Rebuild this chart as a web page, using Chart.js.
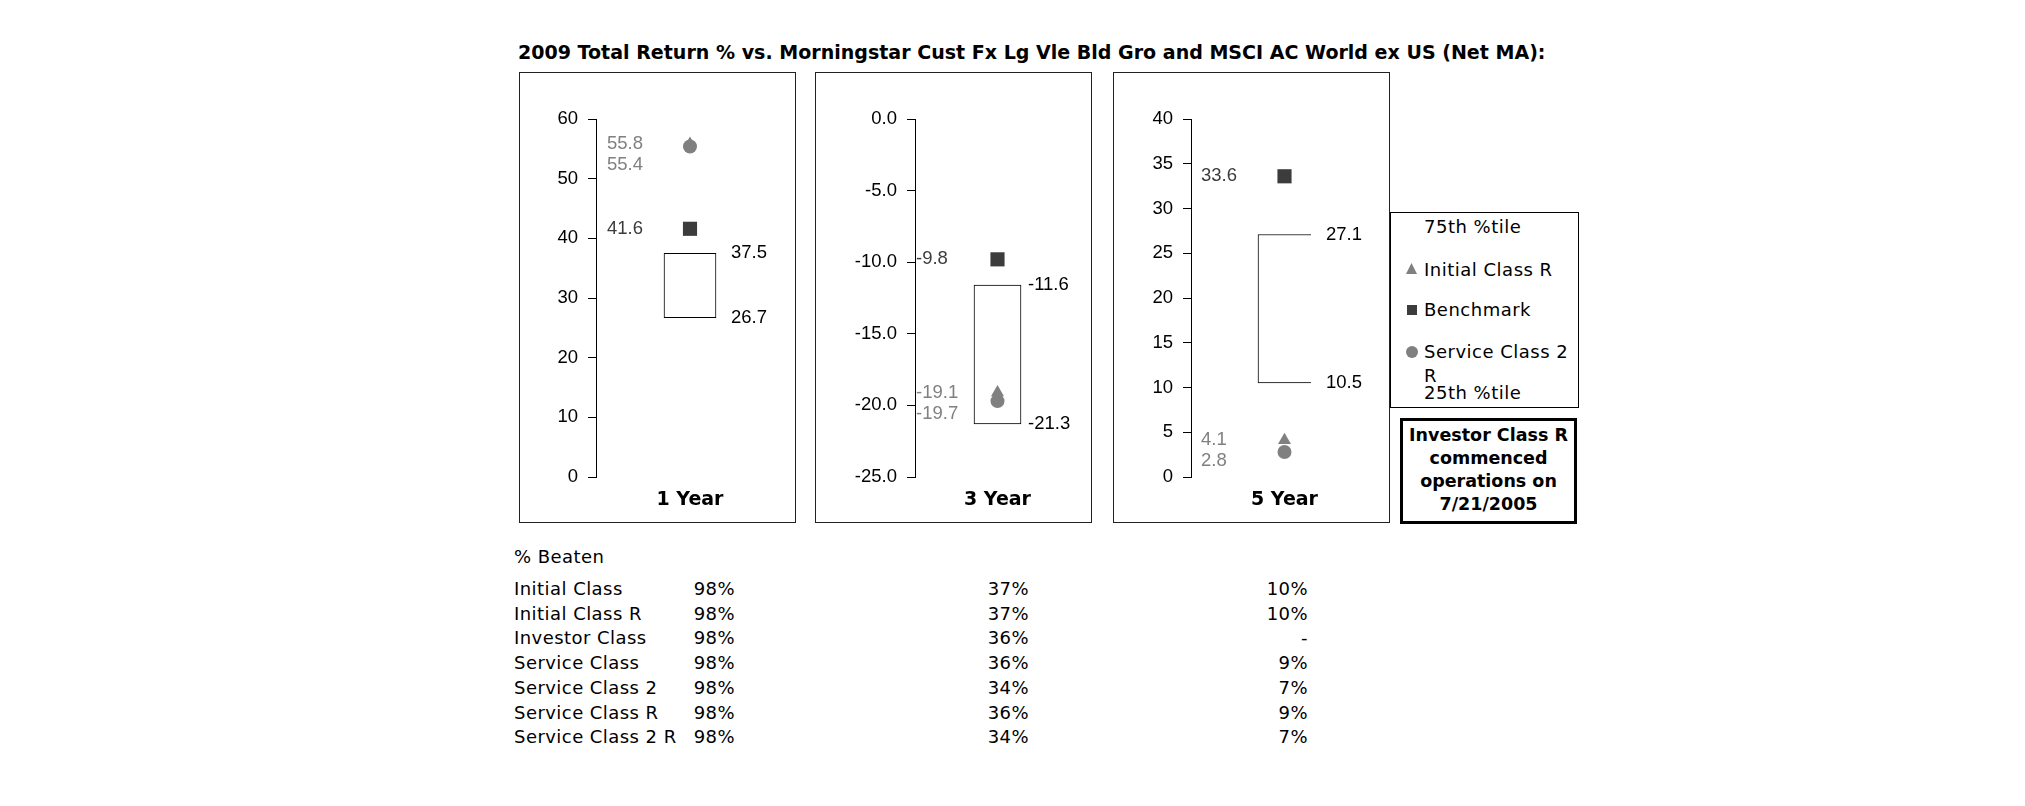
<!DOCTYPE html>
<html>
<head>
<meta charset="utf-8">
<script src="https://cdn.jsdelivr.net/npm/chart.js@4.4.1/dist/chart.umd.min.js"></script>
<style>
  html, body { margin:0; padding:0; background:#fff; }
  body { width:2025px; height:806px; position:relative; overflow:hidden; font-family:"DejaVu Sans", Verdana, sans-serif; color:#000; }
  .abs { position:absolute; }
  .frame { position:absolute; box-sizing:border-box; border:1.5px solid #222; }
  #title { left:518px; top:40px; line-height:24px; font-weight:bold; white-space:nowrap; }
  canvas { position:absolute; }
  #legend { left:1390px; top:212px; width:189px; height:196px; box-sizing:border-box; border:1px solid #000; }
  .lg { position:absolute; left:33px; font-size:18px; letter-spacing:0.5px; line-height:24px; white-space:nowrap; }
  .mk { position:absolute; }
  #note { left:1400px; top:418px; width:177px; height:106px; box-sizing:border-box; border:3px solid #000; text-align:center; font-weight:bold; font-size:17.5px; line-height:23px; padding-top:3px; white-space:nowrap; }
  .tb { position:absolute; font-size:18px; letter-spacing:0.45px; line-height:24px; white-space:nowrap; }
</style>
</head>
<body>
<div id="title" class="abs">2009 Total Return % vs. Morningstar Cust Fx Lg Vle Bld Gro and MSCI AC World ex US (Net MA):</div>

<div class="frame" style="left:519px;top:72px;width:277px;height:451px;"></div>
<div class="frame" style="left:815px;top:72px;width:277px;height:451px;"></div>
<div class="frame" style="left:1113px;top:72px;width:277px;height:451px;"></div>

<canvas id="c0" width="274" height="447" style="left:520px;top:74px;"></canvas>
<canvas id="c1" width="273" height="447" style="left:817px;top:74px;"></canvas>
<canvas id="c2" width="273" height="447" style="left:1115px;top:74px;"></canvas>

<div id="legend" class="abs"></div>
<div id="note" class="abs">Investor Class R<br>commenced<br>operations on<br>7/21/2005</div>
<div id="table"></div>

<script>
// ---------- data ----------
const periods = ['1 Year', '3 Year', '5 Year'];
const pct75 = [37.5, -11.6, 27.1];
const pct25 = [26.7, -21.3, 10.5];
const initialClassR = [55.8, -19.1, 4.1];
const benchmark = [41.6, -9.8, 33.6];
const serviceClass2R = [55.4, -19.7, 2.8];
const axisMin = [0, -25, 0];
const axisMax = [60, 0, 40];
const axisStep = [10, 5, 5];
const tickDecimals = [0, 1, 0];

const tableHeader = '% Beaten';
const tableClasses = ['Initial Class', 'Initial Class R', 'Investor Class', 'Service Class', 'Service Class 2', 'Service Class R', 'Service Class 2 R'];
const beaten1Year = ['98%', '98%', '98%', '98%', '98%', '98%', '98%'];
const beaten3Year = ['37%', '37%', '36%', '36%', '34%', '36%', '34%'];
const beaten5Year = ['10%', '10%', '-', '9%', '7%', '9%', '7%'];

const legendItems = ['75th %tile', 'Initial Class R', 'Benchmark', 'Service Class 2 R', '25th %tile'];

// ---------- layout / style ----------
const GRAY = '#808080', DARK = '#3c3c3c';
const panelLayout = [
  { yWidth: 76, padRight: 6, barW: 52, valOff: 11, pctOff: 15, skip: false },
  { yWidth: 98, padRight: 6, barW: 47, valOff: 1,  pctOff: 7,  skip: false },
  { yWidth: 76, padRight: 8, barW: 53, valOff: 10, pctOff: 15, skip: 'right' }
];

// title fit
(function(){
  const t = document.getElementById('title');
  const c = document.createElement('canvas').getContext('2d');
  c.font = 'bold 16px "DejaVu Sans"';
  const w = c.measureText(t.textContent).width;
  t.style.fontSize = (16 * 1028 / w).toFixed(2) + 'px';
})();

const labelPlugin = {
  id: 'valueLabels',
  afterDatasetsDraw(chart) {
    const i = chart.options.panelIndex;
    const L = panelLayout[i];
    const ctx = chart.ctx;
    const ys = chart.scales.y;
    const area = chart.chartArea;
    ctx.save();
    ctx.font = '18.5px "Liberation Sans", Arial, sans-serif';
    ctx.textBaseline = 'middle';
    ctx.textAlign = 'left';
    const items = [
      { v: initialClassR[i], c: GRAY },
      { v: benchmark[i], c: DARK },
      { v: serviceClass2R[i], c: GRAY }
    ].map(o => ({ ...o, y: ys.getPixelForValue(o.v) })).sort((a, b) => a.y - b.y);
    let prev = -1e9;
    items.forEach(o => {
      let y = o.y;
      if (y < prev + 21) y = prev + 21;
      prev = y;
      ctx.fillStyle = o.c;
      ctx.fillText(o.v.toFixed(1), area.left + L.valOff, y);
    });
    const bar = chart.getDatasetMeta(3).data[0];
    const right = bar.x + bar.width / 2;
    ctx.fillStyle = '#000';
    ctx.fillText(pct75[i].toFixed(1), right + L.pctOff, ys.getPixelForValue(pct75[i]));
    ctx.fillText(pct25[i].toFixed(1), right + L.pctOff, ys.getPixelForValue(pct25[i]));
    ctx.restore();
  }
};

periods.forEach((p, i) => {
  const L = panelLayout[i];
  new Chart(document.getElementById('c' + i), {
    type: 'bar',
    data: {
      labels: [p],
      datasets: [
        { type: 'line', label: 'Initial Class R', data: [initialClassR[i]], showLine: false,
          pointStyle: 'triangle', pointRadius: 7.5, pointBackgroundColor: GRAY, pointBorderWidth: 0, order: 1 },
        { type: 'line', label: 'Service Class 2 R', data: [serviceClass2R[i]], showLine: false,
          pointStyle: 'circle', pointRadius: 7, pointBackgroundColor: GRAY, pointBorderWidth: 0, order: 2 },
        { type: 'line', label: 'Benchmark', data: [benchmark[i]], showLine: false,
          pointStyle: 'rect', pointRadius: 10, pointBackgroundColor: DARK, pointBorderWidth: 0, order: 1 },
        { type: 'bar', label: '25th - 75th %tile', data: [[pct25[i], pct75[i]]],
          backgroundColor: '#ffffff', borderColor: '#000000', borderWidth: 1,
          borderSkipped: L.skip, barThickness: L.barW, order: 5 }
      ]
    },
    options: {
      panelIndex: i,
      responsive: false,
      animation: false,
      events: [],
      layout: { padding: { top: 45, right: L.padRight, bottom: 0, left: 0 } },
      plugins: { legend: { display: false }, tooltip: { enabled: false } },
      scales: {
        x: {
          grid: { display: false, drawTicks: false },
          border: { display: false },
          ticks: { color: '#000', padding: 12, font: { family: '"DejaVu Sans"', weight: 'bold', size: 19 } },
          afterFit(s) { s.height = 44; }
        },
        y: {
          min: axisMin[i], max: axisMax[i],
          grid: { drawOnChartArea: false, drawTicks: true, tickLength: 8, color: '#000', lineWidth: 1 },
          border: { display: true, color: '#000', width: 1 },
          ticks: {
            stepSize: axisStep[i], color: '#000', padding: 10,
            font: { family: '"Liberation Sans", Arial', size: 18.5 },
            callback: v => Number(v).toFixed(tickDecimals[i])
          },
          afterFit(s) { s.width = L.yWidth; }
        }
      }
    },
    plugins: [labelPlugin]
  });
});

// legend
(function(){
  const lg = document.getElementById('legend');
  const rows = [
    { text: legendItems[0], cy: 14, mk: null },
    { text: legendItems[1], cy: 57, mk: 'tri' },
    { text: legendItems[2], cy: 97, mk: 'sq' },
    { text: legendItems[3], cy: 139, mk: 'cir', wrap: true },
    { text: legendItems[4], cy: 180, mk: null }
  ];
  rows.forEach(r => {
    const d = document.createElement('div');
    d.className = 'lg';
    d.textContent = r.text;
    d.style.top = (r.cy - 12) + 'px';
    if (r.wrap) { d.style.whiteSpace = 'normal'; d.style.width = '152px'; }
    lg.appendChild(d);
    if (r.mk) {
      const m = document.createElement('div');
      m.className = 'mk';
      if (r.mk === 'tri') {
        Object.assign(m.style, { left: '15px', top: (r.cy - 7) + 'px', width: '11px', height: '11px', background: GRAY, clipPath: 'polygon(50% 0, 100% 100%, 0 100%)' });
      } else if (r.mk === 'sq') {
        Object.assign(m.style, { left: '16px', top: (r.cy - 5) + 'px', width: '10px', height: '10px', background: DARK });
      } else {
        Object.assign(m.style, { left: '15px', top: (r.cy - 6) + 'px', width: '12px', height: '12px', background: GRAY, borderRadius: '50%' });
      }
      lg.appendChild(m);
    }
  });
})();

// table
(function(){
  const tb = document.getElementById('table');
  function add(text, css) {
    const d = document.createElement('div');
    d.className = 'tb';
    d.textContent = text;
    Object.assign(d.style, css);
    tb.appendChild(d);
  }
  add(tableHeader, { left: '514px', top: (557 - 12) + 'px' });
  tableClasses.forEach((c, r) => {
    const cy = 589 + r * 24.7;
    const top = (cy - 12).toFixed(1) + 'px';
    add(c, { left: '514px', top });
    add(beaten1Year[r], { right: (2025 - 735) + 'px', top });
    add(beaten3Year[r], { right: (2025 - 1029) + 'px', top });
    add(beaten5Year[r], { right: (2025 - 1308) + 'px', top });
  });
})();
</script>
</body>
</html>
